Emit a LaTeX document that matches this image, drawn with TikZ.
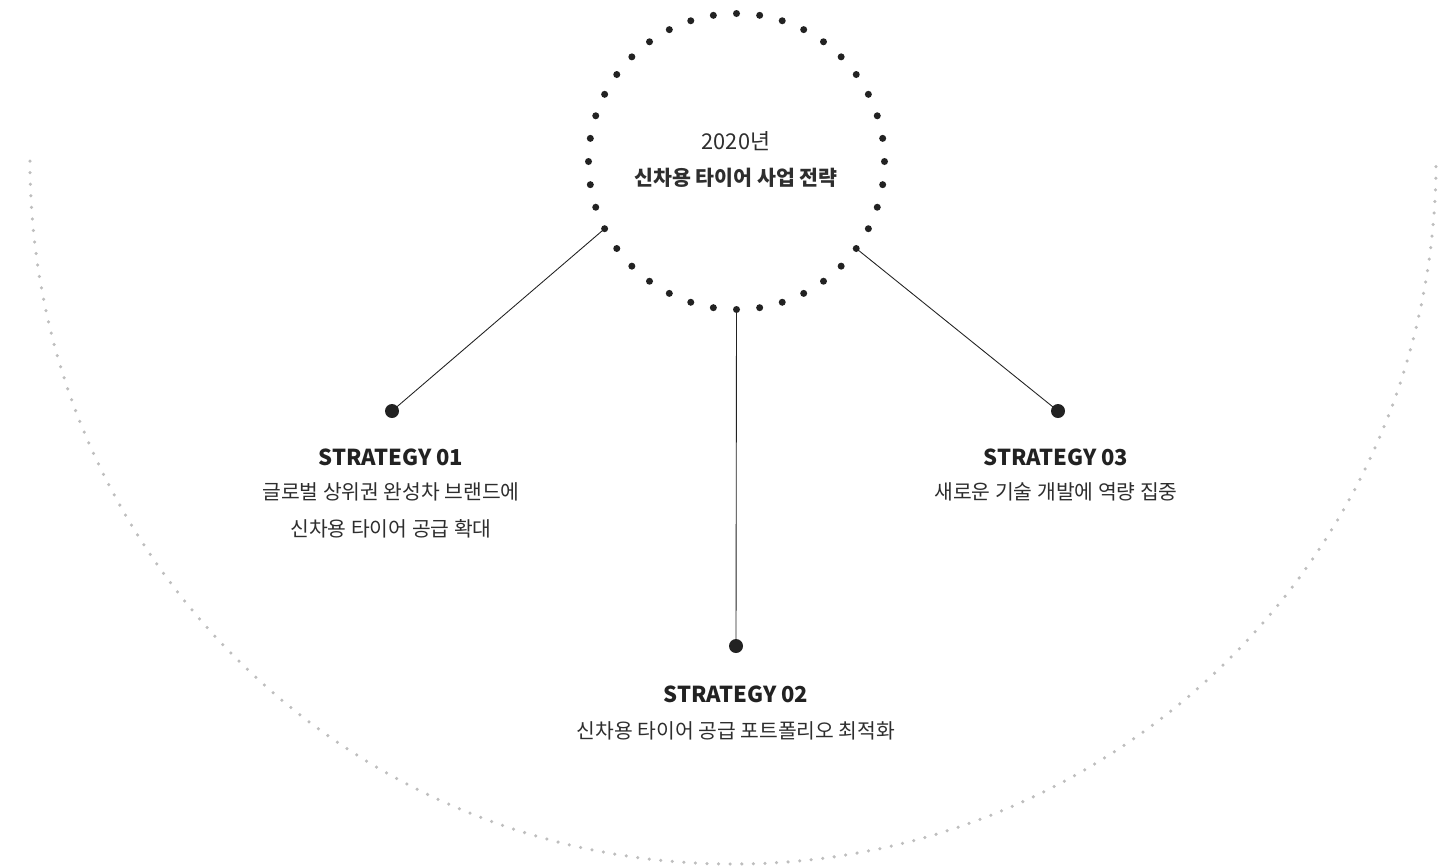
\documentclass[tikz,border=0pt]{standalone}
\usepackage{xcolor}
\usepackage{fontspec}
\setmainfont{Noto Sans CJK KR}
\usepackage{tikz}
\definecolor{ink}{HTML}{222222}
\definecolor{txt}{HTML}{2E2E2E}
\definecolor{dotgray}{HTML}{BEBEBE}

\tikzset{
  enddot/.style={circle, fill=ink, inner sep=0pt, minimum size=0.28cm},
  link/.style={ink, line width=0.5pt},
  title/.style={text=ink, font=\fontsize{12.5pt}{14pt}\selectfont\bfseries},
  desc/.style={text=txt, font=\fontsize{11.6pt}{13pt}\selectfont}
}

\begin{document}
\begin{tikzpicture}[x=0.02cm, y=0.02cm]
        \useasboundingbox (0,0) rectangle (1454,-867);
        % big gray arc
        \draw[dotgray, line width=2pt, line cap=round, dash pattern=on 0pt off 6.6pt]
            (30,-161) arc[start angle=180, end angle=360, radius=703];
        % dotted hub circle
        \coordinate (hub) at (736.5,-161.5);
        \foreach \a in {0,9,...,351}
            \fill[ink] ([shift={(\a:148)}]hub) circle (3.5);
        \coordinate (p1) at ([shift={(207:148)}]hub);
        \coordinate (p2) at ([shift={(270:148)}]hub);
        \coordinate (p3) at ([shift={(324:148)}]hub);
        \node[desc, font=\fontsize{12.4pt}{14pt}\selectfont] (year) at (736,-141) {2020년};
        \node[desc, font=\fontsize{11.7pt}{13pt}\selectfont\bfseries] (plan) at (736,-178) {신차용 타이어 사업 전략};
        % strategy end points
        \node[enddot] (s1) at (392,-411) {};
        \node[enddot] (s2) at (736,-646) {};
        \node[enddot] (s3) at (1058,-411) {};
        \draw[link] (p1) -- (s1.center);
        \draw[link] (p2) -- (s2.center);
        \draw[link] (p3) -- (s3.center);
        % labels
        \node[title] (t1) at (391,-457) {STRATEGY 01};
        \node[desc] (d1a) at (391,-492) {글로벌 상위권 완성차 브랜드에};
        \node[desc] (d1b) at (391,-529) {신차용 타이어 공급 확대};
        \node[title] (t2) at (736,-694) {STRATEGY 02};
        \node[desc] (d2) at (736,-731) {신차용 타이어 공급 포트폴리오 최적화};
        \node[title] (t3) at (1056,-457) {STRATEGY 03};
        \node[desc] (d3) at (1056,-492) {새로운 기술 개발에 역량 집중};
    \end{tikzpicture}
\end{document}
